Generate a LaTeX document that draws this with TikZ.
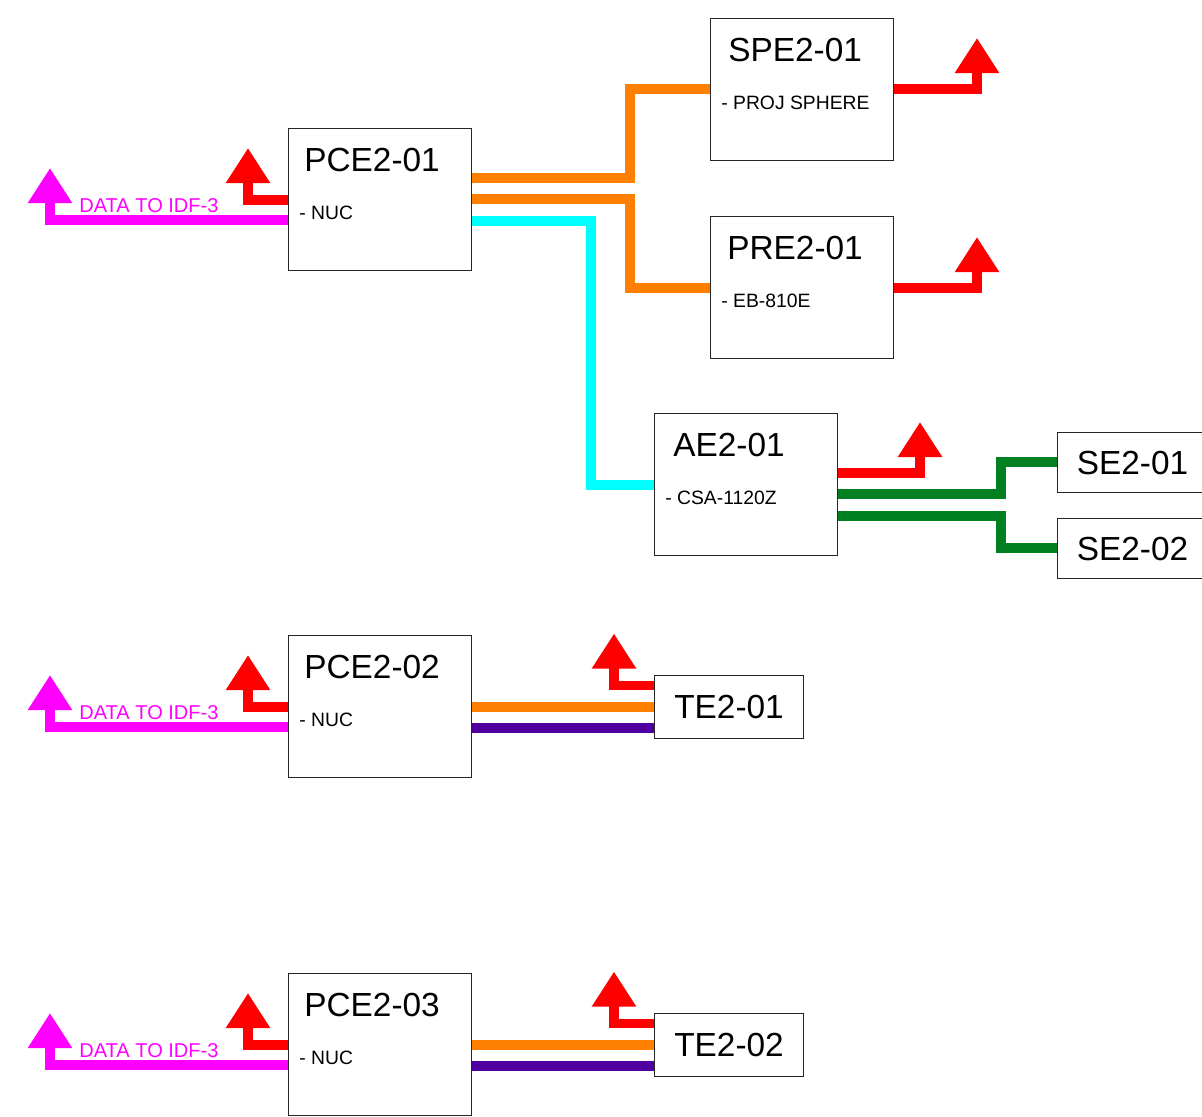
\documentclass[tikz,border=0pt]{standalone}
\usepackage{fontspec}
\setmainfont{Liberation Sans}
\usepackage{tikz}
\usetikzlibrary{arrows.meta, positioning}
\usepackage{xcolor}
\definecolor{wireorange}{RGB}{255,128,0}
\definecolor{wiregreen}{RGB}{0,128,32}
\definecolor{wirepurple}{RGB}{80,0,160}
\definecolor{wirecyan}{RGB}{0,255,255}
\definecolor{wiremagenta}{RGB}{255,0,255}
\definecolor{wirered}{RGB}{255,0,0}

\begin{document}
\begin{tikzpicture}[x=0.02cm, y=-0.02cm,
    box/.style={draw=black!85, line width=0.6pt, anchor=north west, inner sep=0pt, minimum width=3.66cm, minimum height=2.84cm},
    tagbox/.style={draw=black!85, line width=0.6pt, anchor=north west, inner sep=0pt, font=\fontsize{19pt}{22pt}\selectfont},
    title/.style={anchor=base west, inner sep=0pt, font=\fontsize{19pt}{22pt}\selectfont},
    sub/.style={anchor=base west, inner sep=0pt, font=\fontsize{11pt}{13pt}\selectfont},
    wire/.style={line width=5.2pt},
    up/.style={-{Triangle[width=24pt,length=20pt]}}]
                \useasboundingbox (0,0) rectangle (1202,1116);

                % Postazioni PC con uscite a sinistra
                \foreach \n/\top in {1/128, 2/635, 3/973} {
                    \node[box] (pce\n) at (288,\top) {};
                    \node[title] at ([shift={(16,43)}]pce\n.north west) {PCE2-0\n};
                    \node[sub] at ([shift={(11,91)}]pce\n.north west) {- NUC};
                    \draw[wire, wirered, up] ([yshift=-1.44cm]pce\n.north west) -| ([shift={(-40,20)}]pce\n.north west);
                    \draw[wire, wiremagenta, up] ([yshift=-1.84cm]pce\n.north west) -| ([shift={(-238,40)}]pce\n.north west);
                    \node[sub, wiremagenta, font=\fontsize{11.4pt}{13pt}\selectfont] at ([shift={(-209,84)}]pce\n.north west) {DATA TO IDF-3};
                }

                % Proiettori e amplificatore
                \node[box] (spe1) at (710,18) {};
                \node[title] at ([shift={(18,43)}]spe1.north west) {SPE2-01};
                \node[sub] at ([shift={(11,91)}]spe1.north west) {- PROJ SPHERE};

                \node[box] (pre1) at (710,216) {};
                \node[title] at ([shift={(17,43)}]pre1.north west) {PRE2-01};
                \node[sub] at ([shift={(11,91)}]pre1.north west) {- EB-810E};

                \node[box] (ae1) at (654,413) {};
                \node[title] at ([shift={(19,43)}]ae1.north west) {AE2-01};
                \node[sub] at ([shift={(11,91)}]ae1.north west) {- CSA-1120Z};

                % Altoparlanti e touch
                \node[tagbox, minimum width=3cm, minimum height=1.2cm] (se1) at (1057,432) {SE2-01};
                \node[tagbox, minimum width=3cm, minimum height=1.2cm] (se2) at (1057,518) {SE2-02};
                \node[tagbox, minimum width=2.98cm, minimum height=1.26cm] (te1) at (654,675) {TE2-01};
                \node[tagbox, minimum width=2.98cm, minimum height=1.26cm] (te2) at (654,1013) {TE2-02};

                % Collegamenti da PCE2-01
                \draw[wire, wireorange] (pce1.east |- 0,178) -| (630,89) -- (spe1.west |- 0,89);
                \draw[wire, wireorange] (pce1.east |- 0,199) -| (630,288) -- (pre1.west |- 0,288);
                \draw[wire, wirecyan] (pce1.east |- 0,221) -| (591,485) -- (ae1.west |- 0,485);

                % Alimentazione
                \draw[wire, wirered, up] (spe1.east |- 0,89) -| (977,38);
                \draw[wire, wirered, up] (pre1.east |- 0,288) -| (977,237);
                \draw[wire, wirered, up] (ae1.east |- 0,473) -| (920,422);

                % Casse
                \draw[wire, wiregreen] (ae1.east |- 0,494) -| (1001,462) -- (se1.west |- 0,462);
                \draw[wire, wiregreen] (ae1.east |- 0,516) -| (1001,548) -- (se2.west |- 0,548);

                % Touch panel
                \foreach \n in {1,2} {
                    \pgfmathtruncatemacro{\p}{\n+1}
                    \draw[wire, wireorange] (pce\p.east |- te\n.west) -- (te\n.west);
                    \draw[wire, wirepurple] ([yshift=-0.42cm]pce\p.east |- te\n.west) -- ([yshift=-0.42cm]te\n.west);
                    \draw[wire, wirered, up] ([yshift=0.43cm]te\n.west) -| ++(-40,-52);
                }
\end{tikzpicture}
\end{document}
